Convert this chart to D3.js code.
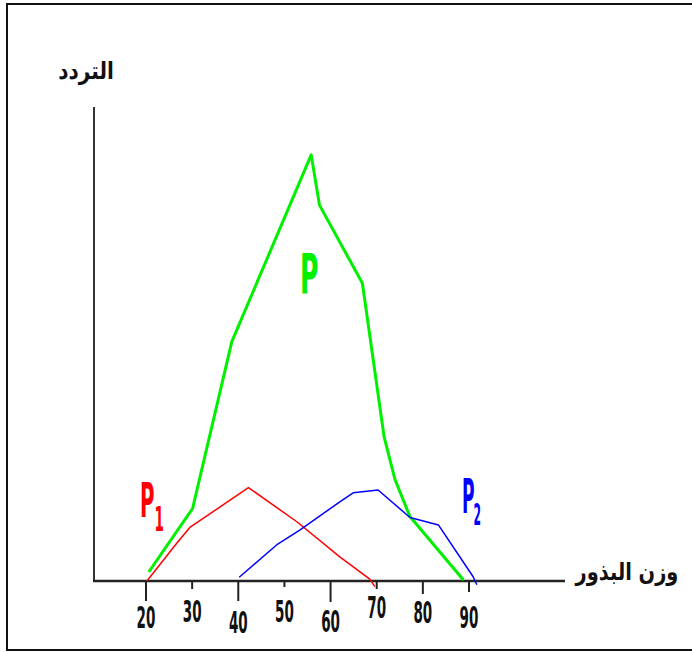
<!DOCTYPE html>
<html>
<head>
<meta charset="utf-8">
<script src="https://cdn.jsdelivr.net/npm/d3@7"></script>
<style>
  body { margin: 0; background: #fff; }
  svg { display: block; }
</style>
</head>
<body>
<svg></svg>
<script>
let width = 692;
let height = 652;

// seed weight (x) / frequency (y)
const pWeight = [20.6, 30.1, 38.6, 55.8, 57.6, 66.9, 71.6, 74.0, 77.2, 88.8];
const pFreq = [1.9, 15.3, 50.5, 89.9, 79.3, 62.8, 30.4, 21.3, 13.6, 0.2];

const p1Weight = [20.2, 26.7, 29.5, 42.2, 52.7, 62.0, 68.5, 69.6];
const p1Freq = [0, 8.0, 11.3, 19.7, 12.5, 5.1, 0.4, -1.2];

const p2Weight = [40.2, 48.3, 53.4, 62.0, 64.9, 70.3, 77.2, 83.4, 90.9, 91.7];
const p2Freq = [0.8, 7.6, 10.8, 16.7, 18.6, 19.2, 13.4, 11.8, 0.9, -0.8];

const tickValues = [20, 30, 40, 50, 60, 70, 80, 90];
const xTitle = 'وزن البذور';
const yTitle = 'التردد';

// hand drawn look: tick lengths and label drops differ
const tickLen = [20, 8, 20, 6, 21, 8, 13, 11];
const labelDrop = [47, 41, 52, 41, 51, 37, 42, 47];

let x = d3.scaleLinear().domain([20, 90]).range([146, 469]);
let y = d3.scaleLinear().domain([0, 100]).range([581, 107]);

let svg = d3.select('svg')
            .attr('width', width)
            .attr('height', height);

// frame (no right edge)
svg.append('path')
  .attr('d', 'M692,4 H7 V650 H692')
  .attr('fill', 'none')
  .attr('stroke', '#111')
  .attr('stroke-width', 2);

// axes
svg.append('line')
  .attr('x1', 94).attr('x2', 94)
  .attr('y1', y(100)).attr('y2', y(0))
  .attr('stroke', '#333')
  .attr('stroke-width', 2);

svg.append('line')
  .attr('x1', 93).attr('x2', 565)
  .attr('y1', y(0)).attr('y2', y(0))
  .attr('stroke', '#222')
  .attr('stroke-width', 2.5);

let ticks = svg.append('g').classed('ticks', true)
  .selectAll('g')
  .data(tickValues)
  .enter()
  .append('g');

ticks.append('line')
  .attr('x1', d => x(d)).attr('x2', d => x(d))
  .attr('y1', y(0))
  .attr('y2', (d, i) => y(0) + tickLen[i])
  .attr('stroke', '#222')
  .attr('stroke-width', 2);

ticks.append('g')
  .attr('transform', (d, i) => `translate(${x(d)}, ${y(0) + labelDrop[i]}) scale(1, 2)`)
  .append('text')
    .attr('text-anchor', 'middle')
    .style('font-family', '"DejaVu Sans Condensed", "DejaVu Sans"')
    .style('font-weight', 'bold')
    .style('font-size', '15px')
    .style('font-stretch', 'condensed')
    .attr('fill', '#111')
    .text(d => d);

// curves
let line = d3.line()
             .x(d => x(d[0]))
             .y(d => y(d[1]));

const series = [
  { w: pWeight, f: pFreq, color: '#00f000', sw: 3 },
  { w: p1Weight, f: p1Freq, color: '#ff0000', sw: 1.5 },
  { w: p2Weight, f: p2Freq, color: '#0000ff', sw: 1.5 }
];

svg.append('g')
  .selectAll('path')
  .data(series)
  .enter()
  .append('path')
    .attr('d', s => line(d3.zip(s.w, s.f)))
    .attr('fill', 'none')
    .attr('stroke', s => s.color)
    .attr('stroke-width', s => s.sw)
    .attr('stroke-linejoin', 'round');

// series labels, tall and narrow like the original lettering
function stretched(px, py, sy, size, color, txt, sub) {
  let t = svg.append('g')
    .attr('transform', `translate(${px}, ${py}) scale(1, ${sy})`)
    .append('text')
      .style('font-family', '"DejaVu Sans Condensed", "DejaVu Sans"')
      .style('font-weight', 'bold')
      .style('font-size', size + 'px')
      .style('font-stretch', 'condensed')
      .attr('fill', color);
  t.append('tspan').text(txt);
  if (sub) {
    t.append('tspan')
      .attr('dx', sub.dx)
      .attr('dy', sub.dy)
      .style('font-size', sub.size + 'px')
      .text(sub.text);
  }
}

stretched(300, 293, 2, 28, '#00f000', 'P');
stretched(140, 517, 2.2, 22, '#ff0000', 'P', { text: '1', dx: 0, dy: 6.4, size: 15 });
stretched(462, 513, 2.5, 19, '#0000ff', 'P', { text: '2', dx: -1, dy: 4.8, size: 12 });

// axis titles
svg.append('g')
  .attr('transform', 'translate(86, 79) scale(1, 1.2)')
  .append('text')
    .attr('text-anchor', 'middle')
    .style('font-family', '"DejaVu Sans"')
    .style('font-weight', 'bold')
    .style('font-size', '20px')
    .attr('fill', '#111')
    .text(yTitle);

svg.append('g')
  .attr('transform', 'translate(627, 580) scale(0.97, 1.2)')
  .append('text')
    .attr('text-anchor', 'middle')
    .style('font-family', '"DejaVu Sans"')
    .style('font-weight', 'bold')
    .style('font-size', '20px')
    .attr('fill', '#111')
    .text(xTitle);
</script>
</body>
</html>
